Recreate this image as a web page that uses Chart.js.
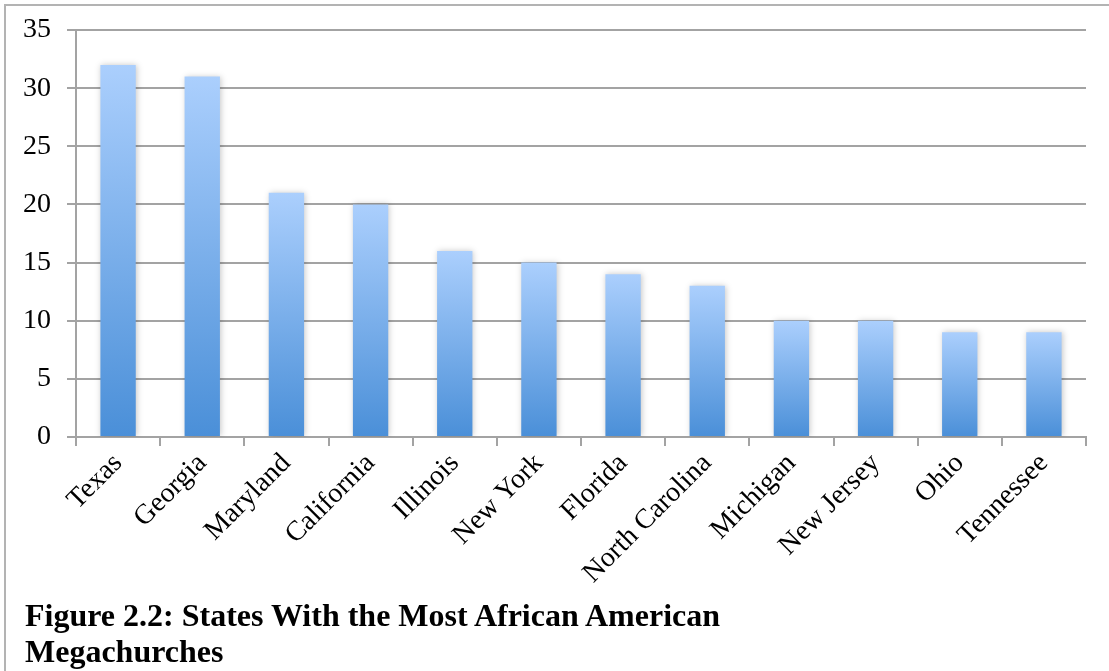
<!DOCTYPE html>
<html>
<head>
<meta charset="utf-8">
<script src="https://cdn.jsdelivr.net/npm/chart.js@4"></script>
<style>
  html, body { margin: 0; padding: 0; background: #fff; }
  #wrap { position: relative; width: 1109px; height: 671px; overflow: hidden; }
  #frame { position: absolute; left: 4px; top: 4px; width: 1120px; height: 700px; border: 2px solid #b3b3b3; box-sizing: border-box; }
  canvas { position: absolute; left: 0; top: 0; }
  #caption { position: absolute; left: 25px; top: 597px; font-family: "Liberation Serif", serif; font-weight: bold; font-size: 32px; line-height: 36px; color: #000; }
</style>
</head>
<body>
<div id="wrap">
  <div id="frame"></div>
  <canvas id="chart" width="1109" height="671"></canvas>
  <div id="caption">Figure 2.2: States With the Most African American<br>Megachurches</div>
</div>
<script>
const states = ['Texas', 'Georgia', 'Maryland', 'California', 'Illinois', 'New York', 'Florida', 'North Carolina', 'Michigan', 'New Jersey', 'Ohio', 'Tennessee'];
const churches = [32, 31, 21, 20, 16, 15, 14, 13, 10, 10, 9, 9];
const yMax = 35;
const yStep = 5;

const gridColor = '#a3a3a3';

function barFill(ctx) {
  const chart = ctx.chart;
  if (!chart.chartArea) return '#7aaee9';
  const y = chart.scales.y;
  const top = y.getPixelForValue(churches[ctx.dataIndex]);
  const bottom = y.getPixelForValue(0);
  const g = chart.ctx.createLinearGradient(0, top, 0, bottom);
  g.addColorStop(0, '#abcffd');
  g.addColorStop(1, '#4a8fd8');
  return g;
}

const shadow = {
  id: 'shadow',
  beforeDatasetDraw(chart) {
    chart.ctx.save();
    chart.ctx.shadowColor = 'rgba(0,0,0,0.22)';
    chart.ctx.shadowBlur = 6;
    chart.ctx.shadowOffsetX = 1;
  },
  afterDatasetDraw(chart) {
    chart.ctx.restore();
  },
};

new Chart(document.getElementById('chart'), {
  type: 'bar',
  data: {
    labels: states,
    datasets: [{ data: churches, backgroundColor: barFill, categoryPercentage: 1, barPercentage: 0.42 }],
  },
  options: {
    responsive: false,
    animation: false,
    layout: { padding: { top: 30, right: 23, left: 0, bottom: 0 } },
    plugins: { legend: { display: false }, tooltip: { enabled: false } },
    scales: {
      x: {
        afterFit(scale) { scale.height = 671 - 437; scale.paddingLeft = 0; scale.paddingRight = 0; },
        grid: { offset: true, drawOnChartArea: false, color: gridColor, lineWidth: 2, tickLength: 9, tickColor: gridColor },
        border: { color: gridColor, width: 2 },
        ticks: { color: '#000', font: { family: 'Liberation Serif', size: 28 }, minRotation: 45, maxRotation: 45, padding: 1 },
      },
      y: {
        min: 0,
        max: yMax,
        afterFit(scale) { scale.width = 76; scale.paddingTop = 0; scale.paddingBottom = 0; },
        grid: { color: gridColor, lineWidth: 2, tickLength: 9 },
        border: { color: gridColor, width: 2 },
        ticks: { stepSize: yStep, color: '#000', font: { family: 'Liberation Serif', size: 28 }, padding: 16 },
      },
    },
  },
  plugins: [shadow],
});
</script>
</body>
</html>
